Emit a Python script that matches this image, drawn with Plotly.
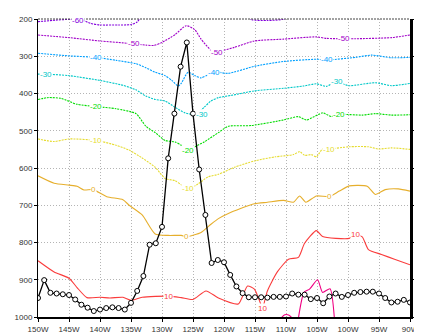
import plotly.graph_objects as go

# ---------------- data ----------------
lon = list(range(-150, -89))  # 150W .. 90W, every 1 degree
series_right = [0.51, 0.99, 0.65, 0.63, 0.61, 0.59, 0.47, 0.33, 0.25, 0.16,
                0.20, 0.24, 0.26, 0.24, 0.20, 0.38, 0.70, 1.10, 1.94, 1.98,
                2.42, 4.26, 5.46, 6.72, 7.37, 5.46, 3.96, 2.74, 1.45, 1.53,
                1.47, 1.13, 0.82, 0.64, 0.53, 0.53, 0.53, 0.52, 0.54, 0.54,
                0.55, 0.63, 0.60, 0.60, 0.48, 0.51, 0.37, 0.55, 0.63, 0.54,
                0.59, 0.65, 0.67, 0.68, 0.68, 0.63, 0.51, 0.39, 0.41, 0.46,
                0.39]

# isotherms (deg C): longitude / pressure (hPa) pairs
t_m60_lon = [-150, -147, -145, -143, -141.5, -140, -137, -135, -134, -133.3,
             -116.5, -115.5, -113, -110.5, -109, -90]
t_m60_p = [207, 203, 201, 202, 212, 216, 216, 215, 208, 195,
           190, 202, 204, 201, 192, 182]

t_m50_lon = [-150, -145, -140, -136.3, -134.5, -132.6, -131.3, -130, -127.9, -126.1,
             -124.7, -123.7, -122.1, -121.2, -120.9, -118.3, -115.1, -110.4, -105.1,
             -103.5, -100.6, -98.8, -93, -90]
t_m50_p = [243, 250, 259, 264, 267, 270, 271, 263, 242, 218,
           229, 254, 284, 290, 288, 276, 259, 254, 248,
           252, 253, 253, 250, 243]

t_m40_lon = [-150, -145, -140.6, -137.4, -134.2, -132.6, -131.1, -129.5, -128.4, -127.4,
             -126.9, -125.8, -124.7, -123.7, -122.6, -121.6, -120.9, -119.3, -115.1,
             -110.4, -105.1, -103.4, -98.8, -96.2, -93, -90]
t_m40_p = [292, 299, 303, 311, 320, 331, 343, 352, 365, 380,
           373, 343, 352, 358, 350, 343, 343, 346, 327,
           314, 308, 310, 303, 297, 304, 303]

t_m30_lon = [-150, -148.7, -145, -140, -136.3, -134.2, -132.6, -131.1, -129.5, -127.9,
             -126.3, -124.5, -123.2, -122.1, -120.9, -118.8, -115.1, -110.4, -107.2,
             -105.1, -103.5, -102.5, -101.7, -99.9, -95.6, -93, -90]
t_m30_p = [348, 348, 352, 365, 378, 390, 407, 416, 420, 437,
           452, 456, 437, 420, 411, 405, 393, 386, 380,
           374, 381, 373, 369, 379, 371, 379, 373]

t_m20_lon = [-150, -148.4, -146.3, -143.7, -140.6, -137.4, -134.2, -132.6, -131.1, -129.5,
             -127.9, -126.9, -125.8, -124.7, -123.2, -120.9, -119.3, -115.6, -110.4,
             -108, -106.7, -104.1, -102.7, -101.5, -97.7, -95.6, -93, -90]
t_m20_p = [416, 411, 413, 429, 435, 441, 454, 488, 505, 526,
           530, 539, 554, 543, 530, 505, 488, 486, 471,
           462, 471, 452, 462, 456, 458, 454, 458, 457]

t_m10_lon = [-150, -147.4, -145, -140.6, -137.4, -135.3, -133.2, -131.1, -129.5, -127.9,
             -126.9, -125.8, -124.2, -122.6, -120.9, -118.3, -115.1, -111.7, -108.8,
             -107.8, -107, -105.9, -105.1, -104.1, -103, -99.8, -96.7, -95.1, -93, -90]
t_m10_p = [522, 529, 522, 526, 539, 552, 573, 598, 628, 634,
           645, 656, 643, 624, 617, 598, 581, 570, 564,
           556, 566, 564, 570, 549, 549, 543, 543, 549, 546, 550]

t_0_lon = [-150, -147.4, -145, -143.7, -142.6, -141.1, -138.9, -136.3, -135.3, -133.2,
           -131.1, -129, -126.9, -126, -123.7, -122.1, -120.9, -119.3, -115.1, -113,
           -110.4, -108.8, -107.8, -106.8, -105.1, -103, -101.4, -99.8, -96.9, -95.6,
           -94, -91.9, -90]
t_0_p = [621, 641, 646, 649, 659, 658, 677, 685, 700, 726,
         777, 781, 781, 784, 773, 751, 736, 722, 696, 692,
         687, 692, 675, 692, 675, 677, 662, 648, 649, 671,
         658, 656, 662]

t_10_lon = [-150, -147.4, -145, -143.7, -142.1, -140, -138.4, -136.3, -135, -133.2,
            -128.9, -126.9, -125, -122.9, -120.9, -117.7, -116.2, -115.1, -114.3, -113.8,
            -113, -111.4, -109.6, -108, -107, -105.1, -104.1, -99.8, -98.8, -97.7,
            -96.7, -94.6, -92.5, -90]
t_10_p = [849, 879, 896, 921, 948, 947, 949, 947, 955, 947,
          944, 948, 953, 930, 949, 965, 917, 925, 955, 976,
          930, 879, 845, 840, 802, 768, 784, 789, 778, 785,
          819, 832, 845, 860]

t_20a_lon = [-110.8, -110.2, -109.5, -109]
t_20a_p = [1003, 994, 995, 1003]
t_20b_lon = [-108, -107.1, -106.2, -104.9, -104.1, -102.9, -102.2]
t_20b_p = [1003, 934, 925, 900, 934, 924, 1003]

# contour labels: (text, lon, pressure)
labels_m60 = [("-60", -143.5, 203)]
labels_m50 = [("-50", -134.5, 267), ("-50", -121.2, 290), ("-50", -100.6, 253)]
labels_m40 = [("-40", -140.6, 303), ("-40", -121.6, 343), ("-40", -103.4, 310)]
labels_m30 = [("-30", -148.7, 348), ("-30", -123.6, 456), ("-30", -101.7, 369)]
labels_m20 = [("-20", -140.6, 435), ("-20", -125.8, 554), ("-20", -101.5, 456)]
labels_m10 = [("-10", -140.6, 526), ("-10", -125.8, 656), ("-10", -103, 549)]
labels_0 = [("0", -141.1, 658), ("0", -126, 784), ("0", -103, 677)]
labels_10 = [("10", -128.9, 944), ("10", -113.8, 976), ("10", -98.8, 778)]

x_ticks = list(range(-150, -89, 5))
x_ticktext = ["150W", "145W", "140W", "135W", "130W", "125W", "120W",
              "115W", "110W", "105W", "100W", "95W", "90W"]
p_ticks = [200, 300, 400, 500, 600, 700, 800, 900, 1000]
r_ticks = [0, 1, 2, 3, 4, 5, 6, 7, 8]

# ---------------- figure ----------------
fig = go.Figure()

contours = [
    (t_m60_lon, t_m60_p, "rgb(130,0,220)", True, labels_m60),
    (t_m50_lon, t_m50_p, "rgb(160,0,200)", True, labels_m50),
    (t_m40_lon, t_m40_p, "rgb(0,160,255)", True, labels_m40),
    (t_m30_lon, t_m30_p, "rgb(0,200,200)", True, labels_m30),
    (t_m20_lon, t_m20_p, "rgb(0,220,0)", True, labels_m20),
    (t_m10_lon, t_m10_p, "rgb(230,220,50)", True, labels_m10),
    (t_0_lon, t_0_p, "rgb(230,175,45)", False, labels_0),
    (t_10_lon, t_10_p, "rgb(250,60,60)", False, labels_10),
    (t_20a_lon, t_20a_p, "rgb(240,0,130)", False, []),
    (t_20b_lon, t_20b_p, "rgb(240,0,130)", False, []),
]

annotations = []
for xs, ps, col, dashed, labs in contours:
    fig.add_trace(go.Scatter(
        x=xs, y=ps, mode="lines", yaxis="y",
        line=dict(color=col, width=1.1, dash="2px,1px" if dashed else "solid",
                  shape="spline", smoothing=0.6),
        hoverinfo="skip", showlegend=False))
    for txt, lx, lp in labs:
        annotations.append(dict(
            x=lx, y=lp, xref="x", yref="y", text=txt, showarrow=False,
            font=dict(size=8, color=col, family="Liberation Sans"),
            bgcolor="white", borderpad=0))

fig.add_trace(go.Scatter(
    x=lon, y=series_right, mode="lines+markers", yaxis="y2",
    line=dict(color="black", width=1.3),
    marker=dict(symbol="circle", size=5, color="white",
                line=dict(color="black", width=1)),
    showlegend=False))

tickfont = dict(size=8, color="#333333", family="Liberation Sans")

fig.update_layout(
    width=422, height=333,
    margin=dict(l=27, r=15, t=7, b=12),
    paper_bgcolor="white", plot_bgcolor="white",
    showlegend=False,
    annotations=annotations,
    xaxis=dict(range=[-150, -90], tickvals=x_ticks, ticktext=x_ticktext,
               showgrid=True, gridcolor="#b4b4b4", griddash="1px,2px", gridwidth=1,
               showline=True, linecolor="black", linewidth=2,
               ticks="outside", ticklen=3, tickcolor="black",
               tickfont=tickfont, zeroline=False),
    yaxis=dict(range=[1000, 200], tickvals=p_ticks,
               ticktext=[str(v) for v in p_ticks],
               showgrid=True, gridcolor="#b4b4b4", griddash="1px,2px", gridwidth=1,
               showline=True, linecolor="black", linewidth=1,
               ticks="outside", ticklen=3, tickcolor="black",
               tickfont=tickfont, zeroline=False),
    yaxis2=dict(range=[0, 8], tickvals=r_ticks, overlaying="y", side="right",
                showgrid=False, showline=True, linecolor="black", linewidth=3,
                ticks="outside", ticklen=3, tickcolor="black",
                tickfont=tickfont, zeroline=False),
    shapes=[dict(type="line", xref="paper", yref="paper", x0=0, x1=1, y0=1, y1=1,
                 line=dict(color="#444444", width=1, dash="2px,1px"))],
)

fig.write_html("out.html")
